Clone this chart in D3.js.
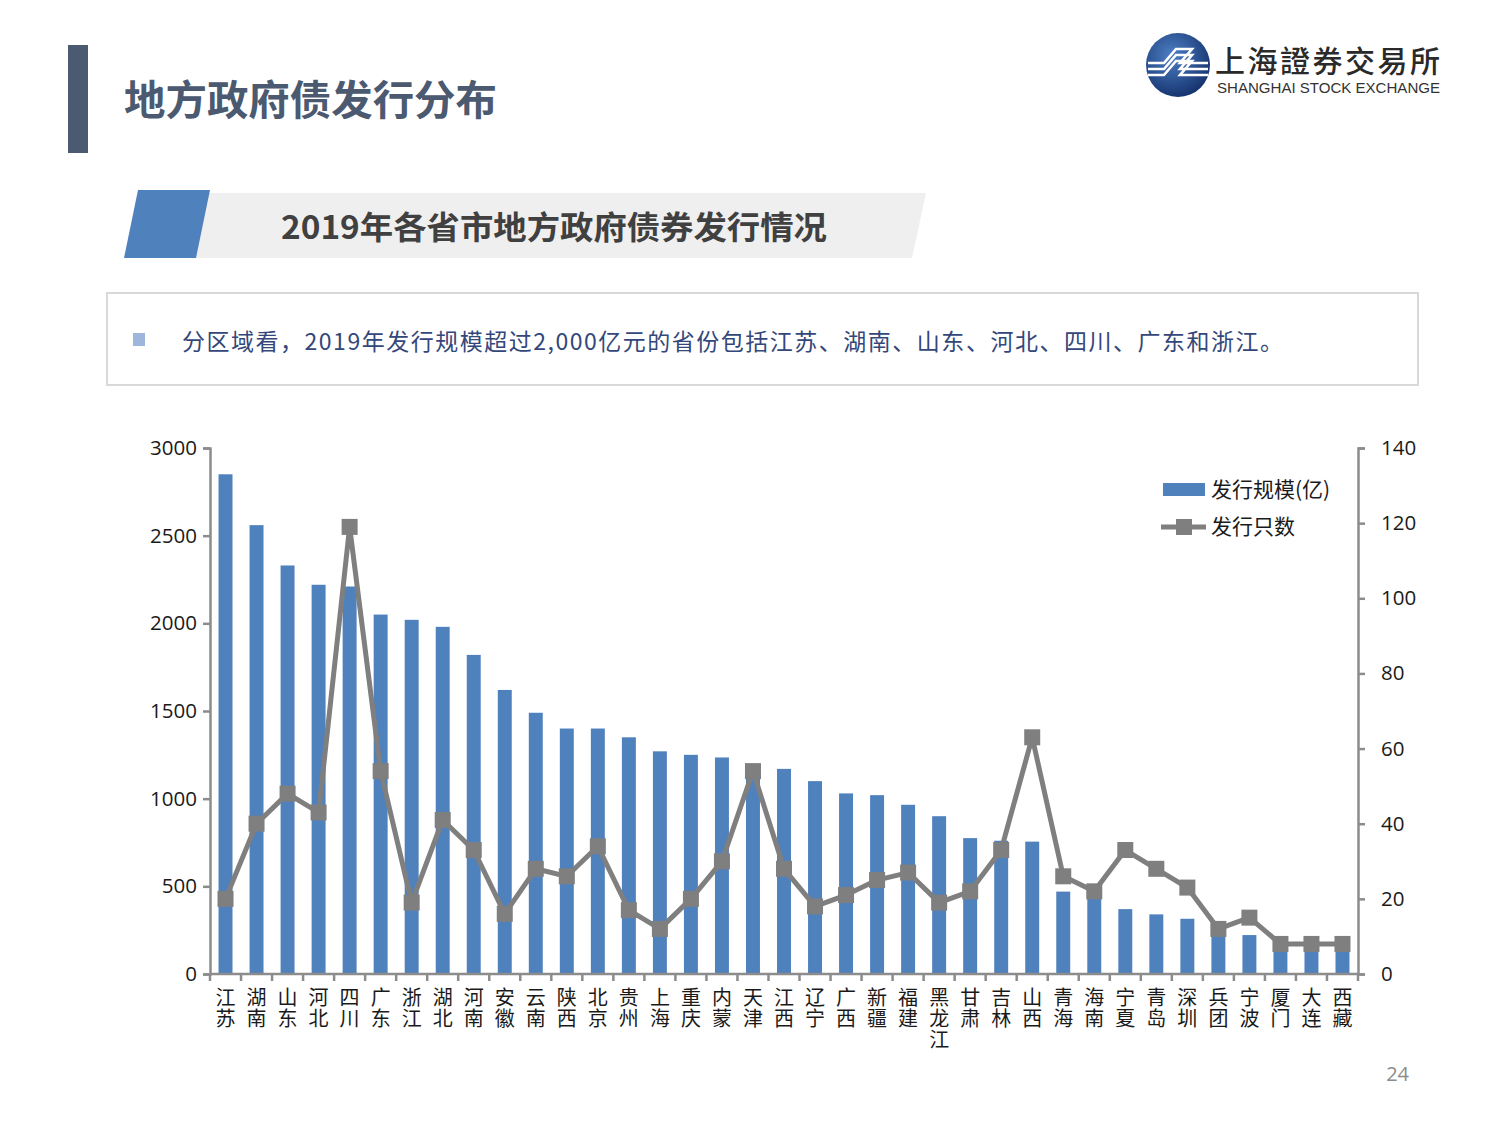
<!DOCTYPE html>
<html>
<head>
<meta charset="utf-8">
<style>
	body { margin: 0; background: #fff; }
	svg { display: block; }
	text { font-family: "Noto Sans CJK SC", "Noto Sans", sans-serif; }
</style>
</head>
<body>
<svg width="1500" height="1125"></svg>
<script src="https://d3js.org/d3.v7.min.js"></script>
<script>

// data
var provinces = ['江苏','湖南','山东','河北','四川','广东','浙江','湖北','河南','安徽','云南','陕西','北京','贵州','上海','重庆','内蒙','天津','江西','辽宁','广西','新疆','福建','黑龙江','甘肃','吉林','山西','青海','海南','宁夏','青岛','深圳','兵团','宁波','厦门','大连','西藏']
var amount = [2850,2560,2330,2220,2210,2050,2020,1980,1820,1620,1490,1400,1400,1350,1270,1250,1235,1190,1170,1100,1030,1020,965,900,775,760,755,470,440,370,340,315,260,222,170,155,150]
var counts = [20,40,48,43,119,54,19,41,33,16,28,26,34,17,12,20,30,54,28,18,21,25,27,19,22,33,63,26,22,33,28,23,12,15,8,8,8]
var leftTicks = [0,500,1000,1500,2000,2500,3000]
var rightTicks = [0,20,40,60,80,100,120,140]
var seriesNames = ['发行规模(亿)','发行只数']

var svg = d3.select('svg')

var blue = '#4f81bd',
	grey = '#7f7f7f',
	axisGrey = '#8c8c8c',
	slate = '#4b5a70'

// ---- page header ----
svg.append('rect').attr('x',68).attr('y',45).attr('width',20).attr('height',108).attr('fill',slate)
svg.append('text').attr('x',124).attr('y',115)
	.style('font-size','41px').style('font-weight','bold').attr('fill',slate)
	.attr('textLength',373).attr('lengthAdjust','spacingAndGlyphs')
	.text('地方政府债发行分布')

// logo
var defs = svg.append('defs')
var grad = defs.append('radialGradient').attr('id','lg').attr('cx','40%').attr('cy','35%').attr('r','70%')
grad.append('stop').attr('offset','0%').attr('stop-color','#4d7fc4')
grad.append('stop').attr('offset','100%').attr('stop-color','#13306b')
var logo = svg.append('g').attr('transform','translate(1178,65)')
logo.append('circle').attr('r',32).attr('fill','url(#lg)')
var stripes = [-6,0,6]
stripes.forEach(function(o) {
	logo.append('path')
		.attr('d','M-30,' + (o+4) + ' L-14,' + (o+4) + ' L-2,' + (o-10) + ' L14,' + (o-10) + ' L2,' + (o+4) + ' L30,' + (o+4))
		.attr('fill','none').attr('stroke','#fff').attr('stroke-width',2.6)
})
svg.append('text').attr('x',1215).attr('y',72)
	.style('font-size','30px').style('font-weight','500').attr('fill','#2a2a2a')
	.attr('textLength',225).attr('lengthAdjust','spacing')
	.text('上海證券交易所')
svg.append('text').attr('x',1217).attr('y',93)
	.style('font-family','"Liberation Sans", Arial, sans-serif').style('font-size','14.5px').attr('fill','#333')
	.attr('textLength',223).attr('lengthAdjust','spacingAndGlyphs')
	.text('SHANGHAI STOCK EXCHANGE')

// subtitle banner
svg.append('path').attr('d','M200,193 L926,193 L912,258 L186,258 Z').attr('fill','#efefef')
svg.append('path').attr('d','M138,190 L210,190 L196,258 L124,258 Z').attr('fill',blue)
svg.append('text').attr('x',281).attr('y',239)
	.style('font-size','32px').style('font-weight','bold').attr('fill','#404040')
	.attr('textLength',546).attr('lengthAdjust','spacingAndGlyphs')
	.text('2019年各省市地方政府债券发行情况')

// note box
svg.append('rect').attr('x',107).attr('y',293).attr('width',1311).attr('height',92)
	.attr('fill','#fff').attr('stroke','#d9d9d9').attr('stroke-width',2)
svg.append('rect').attr('x',133).attr('y',333).attr('width',12).attr('height',13).attr('fill','#9fb6dc')
svg.append('text').attr('x',182).attr('y',350)
	.style('font-size','23px').attr('fill','#34477a')
	.attr('textLength',1101).attr('lengthAdjust','spacing')
	.text('分区域看，2019年发行规模超过2,000亿元的省份包括江苏、湖南、山东、河北、四川、广东和浙江。')

// ---- chart ----
var left = 210, right = 1358, plotTop = 448, bottom = 974

var x = d3.scaleBand().domain(provinces).range([left,right]).paddingInner(0.55).paddingOuter(0.275)
var xb = d3.scaleBand().domain(provinces).range([left,right])
var yL = d3.scaleLinear().domain([0,3000]).range([bottom,plotTop])
var yR = d3.scaleLinear().domain([0,140]).range([bottom,plotTop])

var chart = svg.append('g')

chart.selectAll('rect.bar')
	.data(provinces)
	.enter().append('rect')
	.attr('class','bar')
	.attr('x',function(d) { return x(d) })
	.attr('width',x.bandwidth())
	.attr('y',function(d,i) { return yL(amount[i]) })
	.attr('height',function(d,i) { return bottom - yL(amount[i]) })
	.attr('fill',blue)

// axes
var axL = chart.append('g').attr('transform','translate(' + left + ',0)')
	.call(d3.axisLeft(yL).tickValues(leftTicks).tickSize(7).tickPadding(6).tickFormat(d3.format('d')))
var axR = chart.append('g').attr('transform','translate(' + right + ',0)')
	.call(d3.axisRight(yR).tickValues(rightTicks).tickSize(7).tickPadding(16).tickFormat(d3.format('d')))
;[axL,axR].forEach(function(a) {
	a.select('.domain').attr('stroke',axisGrey).attr('stroke-width',2.5)
	a.selectAll('.tick line').attr('stroke',axisGrey).attr('stroke-width',2.5)
	a.selectAll('.tick text').attr('fill','#1a1a1a').style('font-family','"Open Sans", "Noto Sans", sans-serif').style('font-size','20.5px')
})

// category axis with ticks on band edges
var axX = chart.append('g')
axX.append('line').attr('x1',left).attr('x2',right).attr('y1',bottom).attr('y2',bottom)
	.attr('stroke',axisGrey).attr('stroke-width',2.5)
axX.selectAll('line.tk')
	.data(provinces.concat(['end']))
	.enter().append('line')
	.attr('class','tk')
	.attr('x1',function(d,i) { return left + i*xb.bandwidth() })
	.attr('x2',function(d,i) { return left + i*xb.bandwidth() })
	.attr('y1',bottom).attr('y2',bottom+7)
	.attr('stroke',axisGrey).attr('stroke-width',2.5)
// vertical, upright labels
axX.selectAll('text.cat')
	.data(provinces)
	.enter().append('text')
	.attr('class','cat')
	.attr('x',function(d) { return xb(d) + xb.bandwidth()/2 })
	.attr('y',987)
	.style('writing-mode','vertical-rl')
	.style('text-orientation','upright')
	.style('letter-spacing','1px')
	.style('font-size','20px').attr('fill','#1a1a1a')
	.text(function(d) { return d })

// count line
var line = d3.line()
	.x(function(d,i) { return xb(provinces[i]) + xb.bandwidth()/2 })
	.y(function(d) { return yR(d) })
chart.append('path').datum(counts).attr('d',line)
	.attr('fill','none').attr('stroke',grey).attr('stroke-width',5).attr('stroke-linejoin','round')
chart.selectAll('rect.mk')
	.data(counts)
	.enter().append('rect')
	.attr('class','mk')
	.attr('x',function(d,i) { return xb(provinces[i]) + xb.bandwidth()/2 - 8 })
	.attr('y',function(d) { return yR(d) - 8 })
	.attr('width',16).attr('height',16)
	.attr('fill',grey)

// legend
var lg = svg.append('g')
lg.append('rect').attr('x',1163).attr('y',483).attr('width',42).attr('height',13).attr('fill',blue)
lg.append('text').attr('x',1211).attr('y',497).style('font-size','21px').attr('fill','#1a1a1a').text(seriesNames[0])
lg.append('line').attr('x1',1161).attr('x2',1206).attr('y1',527).attr('y2',527).attr('stroke',grey).attr('stroke-width',5)
lg.append('rect').attr('x',1176).attr('y',519).attr('width',16).attr('height',16).attr('fill',grey)
lg.append('text').attr('x',1211).attr('y',534).style('font-size','21px').attr('fill','#1a1a1a').text(seriesNames[1])

// page number
svg.append('text').attr('x',1409).attr('y',1081).attr('text-anchor','end')
	.style('font-family','"Open Sans", "Noto Sans", sans-serif').style('font-size','20px').attr('fill','#8c8c8c')
	.text('24')

</script>
</body>
</html>
